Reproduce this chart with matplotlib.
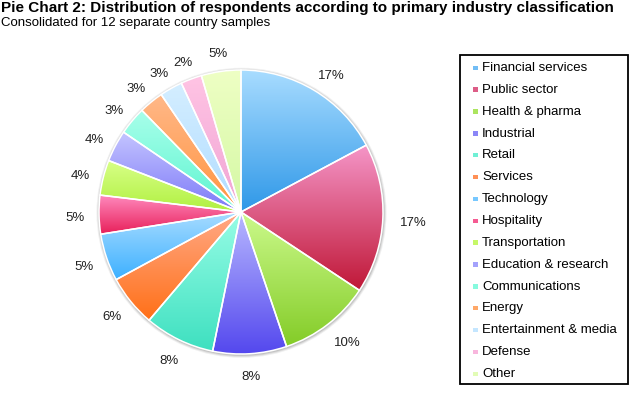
import numpy as np
import matplotlib
matplotlib.use('Agg')
import matplotlib.pyplot as plt
from matplotlib.patches import Circle, Rectangle
from matplotlib.colors import to_rgb

plt.rcParams['font.family'] = ['Liberation Sans', 'DejaVu Sans']

# data
categories = ['Financial services', 'Public sector', 'Health & pharma', 'Industrial',
              'Retail', 'Services', 'Technology', 'Hospitality', 'Transportation',
              'Education & research', 'Communications', 'Energy',
              'Entertainment & media', 'Defense', 'Other']
shares = [17.2, 17.1, 10.5, 8.4, 8.0, 5.9, 5.4, 4.4, 4.0, 3.6, 3.2, 2.8, 2.6, 2.4, 4.5]
pct_labels = ['17%', '17%', '10%', '8%', '8%', '6%', '5%', '5%', '4%', '4%',
              '3%', '3%', '3%', '2%', '5%']

# gradient colours, top -> bottom
top_cols = ['#a8dcff', '#f596c8', '#ccfa8c', '#b8b8ff', '#98fde6', '#ffaa88',
            '#a8dcff', '#ff8cc0', '#d8ff88', '#c4c4ff', '#a8ffea', '#ffb888',
            '#d4eeff', '#ffc4e4', '#eeffc4']
bot_cols = ['#2f98e8', '#c01838', '#84cc28', '#5448ee', '#3ee0c0', '#ff7018',
            '#3cb0ff', '#e8205a', '#b0f040', '#7c78f8', '#5cf4d0', '#ff9440',
            '#b0dcff', '#f0a4d4', '#d4f8a4']

W, H = 633, 399
fig = plt.figure(figsize=(W / 100, H / 100), dpi=100)
ax = fig.add_axes([0, 0, 1, 1])

cx, cy, r = 241, H - 212, 142

# soft shadow under the pie
for k, a in [(3.0, 0.15), (2.0, 0.25), (1.0, 0.35)]:
    ax.add_patch(Circle((cx + 0.5, cy - 0.8), r + k, color='#9a9a9a', alpha=a, lw=0, zorder=1))

wedges, _ = ax.pie(shares, startangle=90, counterclock=False, radius=r, center=(cx, cy),
                   wedgeprops=dict(edgecolor='white', linewidth=1.1, facecolor='none'),
                   frame=True)

for i, w in enumerate(wedges):
    w.set_zorder(4)
    ext = w.get_path().get_extents()
    c0 = np.array(to_rgb(bot_cols[i]))
    c1 = np.array(to_rgb(top_cols[i]))
    t = np.linspace(0, 1, 128)[:, None, None]
    grad = c0 + (c1 - c0) * t
    im = ax.imshow(grad, extent=[ext.x0, ext.x1, ext.y0, ext.y1], origin='lower',
                   aspect='auto', interpolation='bilinear', zorder=3)
    im.set_clip_path(w)

ax.set_xlim(0, W)
ax.set_ylim(0, H)
ax.set_aspect('auto')
ax.axis('off')

# percentage labels around the rim
fig.canvas.draw()
ren = fig.canvas.get_renderer()
d = 1.1 * r
for i, w in enumerate(wedges):
    ang = np.deg2rad((w.theta1 + w.theta2) / 2)
    ux, uy = np.cos(ang), np.sin(ang)
    txt = ax.text(0, 0, pct_labels[i], fontsize=9.5, color='#222222',
                  ha='center', va='center', zorder=5)
    bb = txt.get_window_extent(ren)
    px = cx + d * ux + 0.5 * bb.width * ux + (3 if ux > 0.3 else 0)
    py = cy + d * uy + 0.5 * bb.height * uy - 3
    txt.set_position((px, py))

# legend
lx0, lx1, ly0, ly1 = 460, 628, 55, 384
ax.add_patch(Rectangle((lx0, H - ly1), lx1 - lx0, ly1 - ly0, facecolor='white',
                       edgecolor='black', linewidth=1.3, zorder=5))
for i, name in enumerate(categories):
    yy = H - (68 + i * 21.86)
    mid = 0.55 * np.array(to_rgb(top_cols[i])) + 0.45 * np.array(to_rgb(bot_cols[i]))
    ax.add_patch(Rectangle((473, yy - 2), 4.5, 4.5, facecolor=mid, edgecolor='none', zorder=6))
    ax.text(482, yy, name, fontsize=9.5, color='black', va='center', ha='left', zorder=6)

fig.text(1 / W, 1 - 12 / H, 'Pie Chart 2: Distribution of respondents according to primary industry classification',
         fontsize=11, fontweight='bold', va='baseline', ha='left')
fig.text(1 / W, 1 - 26 / H, 'Consolidated for 12 separate country samples',
         fontsize=9.5, va='baseline', ha='left')

fig.savefig('out.png', dpi=100)
